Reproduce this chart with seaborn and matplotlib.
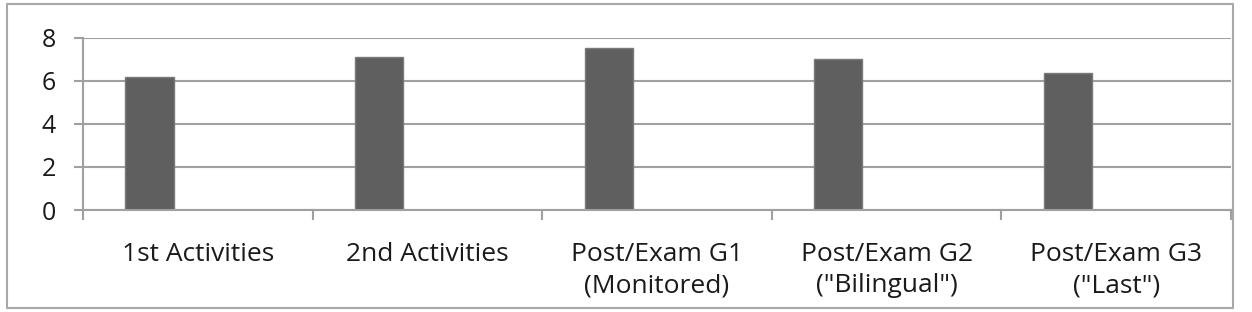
import pandas as pd
import matplotlib.pyplot as plt
import seaborn as sns
from matplotlib.patches import Rectangle
from matplotlib.ticker import FixedLocator

categories = ["1st Activities", "2nd Activities", "Post/Exam G1\n(Monitored)",
              "Post/Exam G2\n(\"Bilingual\")", "Post/Exam G3\n(\"Last\")"]
scores = [6.15, 7.08, 7.51, 6.99, 6.37]
series = ["Series1", "Series2", "Series3"]

df = pd.DataFrame({"Stage": categories, "Score": scores, "Series": series[0]})

sns.set_style("white")
plt.rcParams["font.family"] = ["Open Sans", "DejaVu Sans"]

grid_col = "#a0a0a0"
fig = plt.figure(figsize=(12.52, 3.12), dpi=100)
ax = fig.add_axes([83 / 1252, 102 / 312, 1148 / 1252, 172.5 / 312])

sns.barplot(data=df, x="Stage", y="Score", hue="Series", hue_order=series,
            order=categories, width=0.63, dodge=True,
            palette=["#5f5f5f"] * 3, edgecolor="#7a7a7a", linewidth=1,
            legend=False, ax=ax)

ax.set_ylim(0, 8)
ax.set_xlim(-0.5, len(categories) - 0.5)
ax.set_yticks([0, 2, 4, 6, 8])
ax.yaxis.grid(True, color=grid_col, linewidth=1.5)
ax.set_axisbelow(True)
ax.set_xlabel("")
ax.set_ylabel("")

for s in ["top", "right"]:
    ax.spines[s].set_visible(False)
for s in ["left", "bottom"]:
    ax.spines[s].set_color(grid_col)
    ax.spines[s].set_linewidth(1.5)

ax.tick_params(axis="y", length=6.5, width=1.5, color=grid_col, pad=13,
               labelsize=18, labelcolor="#1a1a1a", left=True)
ax.tick_params(axis="x", which="major", length=0, pad=23, labelsize=19,
               labelcolor="#1a1a1a")
ax.xaxis.set_minor_locator(FixedLocator([i - 0.5 for i in range(len(categories) + 1)]))
ax.tick_params(axis="x", which="minor", length=7, width=1.5, color=grid_col, bottom=True)
for lbl in ax.get_xticklabels():
    lbl.set_linespacing(1.32)
    lbl.set_verticalalignment("top")

fig.patches.append(Rectangle((7 / 1252, 4 / 312), 1226 / 1252, 304 / 312,
                             transform=fig.transFigure, fill=False,
                             edgecolor="#a8a8a8", linewidth=1.5))

fig.savefig("out.png", dpi=100)
